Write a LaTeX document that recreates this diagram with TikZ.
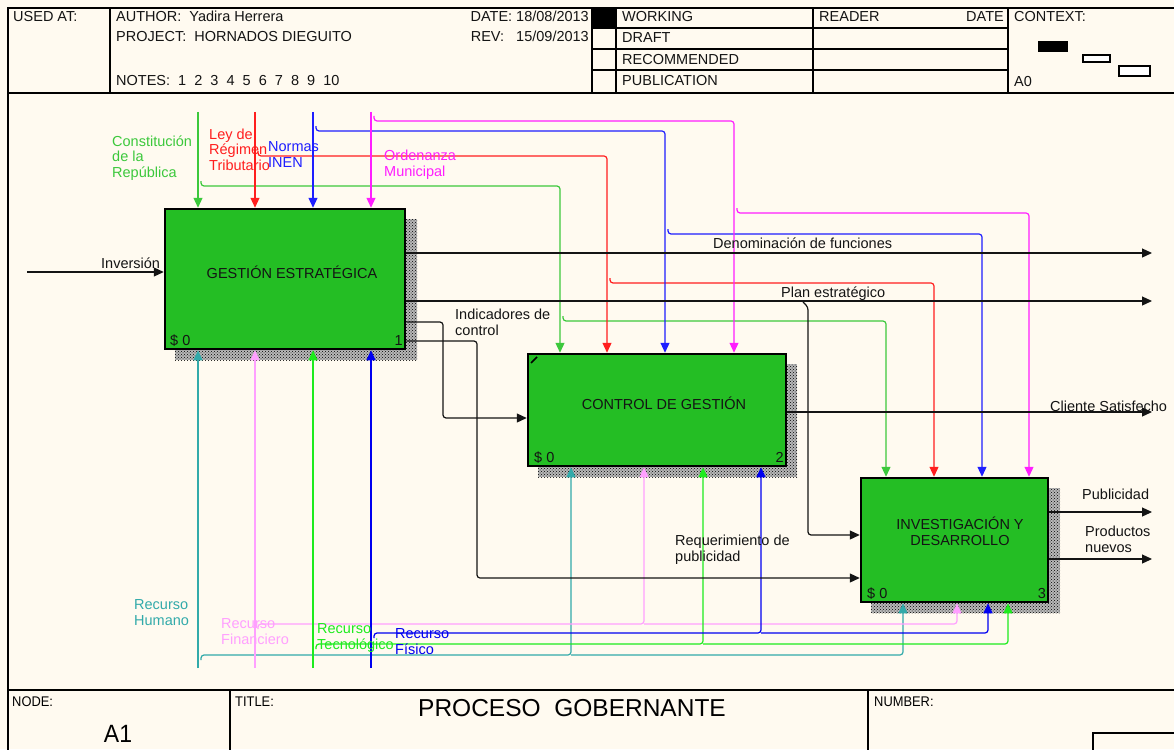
\documentclass[tikz,border=0pt]{standalone}
\usepackage{fontspec}
\setmainfont{Liberation Sans}
\newfontfamily\narrowf{Liberation Sans}[FakeStretch=0.92]
\usetikzlibrary{arrows.meta,patterns}
\definecolor{bg}{RGB}{255,250,240}
\definecolor{boxgreen}{RGB}{36,190,36}
\definecolor{cgreen}{RGB}{60,200,60}
\definecolor{cred}{RGB}{255,30,30}
\definecolor{cblue}{RGB}{30,30,255}
\definecolor{cmag}{RGB}{255,30,255}
\definecolor{mteal}{RGB}{50,170,170}
\definecolor{mpink}{RGB}{255,160,255}
\definecolor{mlime}{RGB}{30,235,30}
\definecolor{mblue}{RGB}{0,0,240}
\definecolor{ink}{RGB}{20,20,20}
\begin{document}
\begin{tikzpicture}[x=1pt,y=-1pt,
  >={Triangle[length=10pt,width=9pt]},
  lbl/.style={font=\fontsize{14.5}{15.5}\selectfont, anchor=base west, align=left, inner sep=0pt, text=ink},
  lblr/.style={lbl, anchor=base east},
  boxlbl/.style={font=\fontsize{14.5}{16}\selectfont, align=center, inner sep=0pt, text=ink},
  box/.style={draw=black, line width=2.5pt, fill=boxgreen, inner sep=0pt},
  shade/.style={pattern=crosshatch dots, pattern color=black},
  con/.style={line width=1.2pt, rounded corners=3pt, ->},
  frame/.style={line width=1.4pt, black},
  small/.style={font=\narrowf\fontsize{14}{15}\selectfont, anchor=base west, inner sep=0pt}
]
\useasboundingbox (0,0) rectangle (1174,749);
\fill[bg] (0,0) rectangle (1174,749);

% ---------- frame and header ----------
\draw[frame] (8,8) rectangle (1185,760);
\draw[line width=2pt] (8,93) -- (1185,93);
\foreach \xx in {110,592,616,813,1008} \draw[frame] (\xx,8) -- (\xx,93);
\foreach \yy in {28,49,70} \draw[frame] (592,\yy) -- (1008,\yy);
\fill[black] (592,8) rectangle (616,28);
\fill[black] (1038,41) rectangle (1068,52);
\draw[line width=1.2pt, fill=white] (1083,55) rectangle (1110,62);
\draw[line width=1.2pt, fill=white] (1119,66) rectangle (1150,76);

\node[lbl] (hUsed) at (13,22) {USED AT:};
\node[lbl] (hAuth) at (116,22) {AUTHOR:~~Yadira Herrera};
\node[lbl] (hProj) at (116,42) {PROJECT:~~HORNADOS DIEGUITO};
\node[lbl] (hNotes) at (116,86) {NOTES:~~1~~2~~3~~4~~5~~6~~7~~8~~9~~10};
\node[lblr] (hDate) at (589,22) {DATE: 18/08/2013};
\node[lblr] (hRev) at (589,42) {REV:~~~15/09/2013};
\node[lbl] (hW) at (622,22) {WORKING};
\node[lbl] (hD) at (622,43) {DRAFT};
\node[lbl] (hR) at (622,65) {RECOMMENDED};
\node[lbl] (hP) at (622,86) {PUBLICATION};
\node[lbl] (hRd) at (819,22) {READER};
\node[lblr] (hDt) at (1004,22) {DATE};
\node[lbl] (hCx) at (1014,22) {CONTEXT:};
\node[lbl] (hA0) at (1014,87) {A0};

% ---------- footer ----------
\draw[line width=2pt] (8,690) -- (1185,690);
\draw[frame] (230,690) -- (230,760);
\draw[frame] (868,690) -- (868,760);
\draw[frame] (1093,760) -- (1093,733) -- (1185,733);
\node[small] (fNode) at (12,706) {NODE:};
\node[small] (fTitle) at (235,706) {TITLE:};
\node[small] (fNum) at (874,706) {NUMBER:};
\node[font=\narrowf\fontsize{25}{26}\selectfont, anchor=base, inner sep=0pt] (fA1) at (118,742) {A1};
\node[font=\fontsize{24.5}{27}\selectfont, anchor=base, inner sep=0pt] (fT) at (572,716) {PROCESO~~GOBERNANTE};

% ---------- shadows ----------
\fill[black!28] (175,219) rectangle (417,360);
\fill[shade] (175,219) rectangle (417,360);
\fill[black!28] (538,364) rectangle (797,477);
\fill[shade] (538,364) rectangle (797,477);
\fill[black!28] (871,488) rectangle (1060,613);
\fill[shade] (871,488) rectangle (1060,613);

% ---------- boxes ----------
\node[box, minimum width=240pt, minimum height=140pt] (b1) at (285,279) {};
\node[box, minimum width=258pt, minimum height=112pt] (b2) at (657,410) {};
\node[box, minimum width=187pt, minimum height=124pt] (b3) at (954.5,540) {};
\draw[line width=1.6pt] (531,363) -- (537,357);

\node[boxlbl] (b1t) at (292,272) {GESTIÓN ESTRATÉGICA};
\node[boxlbl] (b2t) at (664,403) {CONTROL DE GESTIÓN};
\node[boxlbl] (b3t) at (960,531) {INVESTIGACIÓN Y\\DESARROLLO};
\node[lbl] (b1c) at (170,345) {\$ 0};
\node[lblr] (b1n) at (403,345) {1};
\node[lbl] (b2c) at (534,462) {\$ 0};
\node[lblr] (b2n) at (784,462) {2};
\node[lbl] (b3c) at (867,598) {\$ 0};
\node[lblr] (b3n) at (1046,598) {3};

% ---------- controls ----------
\coordinate (gC) at (198,112);
\coordinate (rC) at (255,112);
\coordinate (bC) at (313,112);
\coordinate (mC) at (371,112);
\coordinate (gB1) at (201,181);
\coordinate (gB2) at (563,316);
\coordinate (rB1) at (258,151);
\coordinate (rB2) at (610,278);
\coordinate (bB1) at (316,126);
\coordinate (bB2) at (668,229);
\coordinate (mB1) at (374,116);
\coordinate (mB2) at (737,208);

\draw[con,cgreen] (gC) -- (gC |- b1.north);
\draw[con,cgreen] (gB1) |- (560,186) -- (560,0 |- b2.north);
\draw[con,cgreen] (gB2) |- (886,321) -- (886,0 |- b3.north);
\draw[con,cred] (rC) -- (rC |- b1.north);
\draw[con,cred] (rB1) |- (607,156) -- (607,0 |- b2.north);
\draw[con,cred] (rB2) |- (934,283) -- (934,0 |- b3.north);
\draw[con,cblue] (bC) -- (bC |- b1.north);
\draw[con,cblue] (bB1) |- (665,131) -- (665,0 |- b2.north);
\draw[con,cblue] (bB2) |- (982,234) -- (982,0 |- b3.north);
\draw[con,cmag] (mC) -- (mC |- b1.north);
\draw[con,cmag] (mB1) |- (734,121) -- (734,0 |- b2.north);
\draw[con,cmag] (mB2) |- (1029,213) -- (1029,0 |- b3.north);

% ---------- mechanisms ----------
\coordinate (tM) at (198,668);
\coordinate (pM) at (255,668);
\coordinate (lM) at (313,668);
\coordinate (uM) at (371,668);
\coordinate (tB) at (201,660);
\coordinate (pB) at (258,629);
\coordinate (lB) at (316,649);
\coordinate (uB) at (374,638);
\coordinate (tJ) at (571,655);
\coordinate (pJ) at (644,624);
\coordinate (lJ) at (703,644);
\coordinate (uJ) at (761,633);

\draw[con,mteal] (tM) -- (tM |- b1.south);
\draw[con,mteal] (tB) |- (tJ) -- (tJ |- b2.south);
\draw[con,mteal] (tJ) -- (903,655) -- (903,0 |- b3.south);
\draw[con,mpink] (pM) -- (pM |- b1.south);
\draw[con,mpink] (pB) |- (pJ) -- (pJ |- b2.south);
\draw[con,mpink] (pJ) -- (957,624) -- (957,0 |- b3.south);
\draw[con,mlime] (lM) -- (lM |- b1.south);
\draw[con,mlime] (lB) |- (lJ) -- (lJ |- b2.south);
\draw[con,mlime] (lJ) -- (1008,644) -- (1008,0 |- b3.south);
\draw[con,mblue] (uM) -- (uM |- b1.south);
\draw[con,mblue] (uB) |- (uJ) -- (uJ |- b2.south);
\draw[con,mblue] (uJ) -- (988,633) -- (988,0 |- b3.south);

% ---------- inputs / outputs ----------
\coordinate (inp) at (27,272);
\coordinate (o1) at (1152,253);
\coordinate (o2) at (1152,301);
\coordinate (o5) at (1152,412);
\coordinate (o6) at (1152,512);
\coordinate (o7) at (1152,559);
\coordinate (psB) at (803,302);

\draw[con,ink] (inp) -- (b1.west |- inp);
\draw[con,ink] (b1.east |- o1) -- (o1);
\draw[con,ink] (b1.east |- o2) -- (o2);
\draw[con,ink] (psB) -- (808,307) -- (808,535) -- (b3.west |- 0,535);
\draw[con,ink] (b1.east |- 0,322) -- (443,322) -- (443,418) -- (b2.west |- 0,418);
\draw[con,ink] (b1.east |- 0,341) -- (477,341) -- (477,578) -- (b3.west |- 0,578);
\draw[con,ink] (b2.east |- o5) -- (o5);
\draw[con,ink] (b3.east |- o6) -- (o6);
\draw[con,ink] (b3.east |- o7) -- (o7);

% ---------- labels (base = last line) ----------
\node[lbl] (lI) at (101,268) {Inversión};
\node[lbl] (lO1) at (713,248) {Denominación de funciones};
\node[lbl] (lO2) at (781,297) {Plan estratégico};
\node[lbl] (lO3) at (455,335) {Indicadores de\\control};
\node[lbl] (lO4) at (675,561) {Requerimiento de\\publicidad};
\node[lbl] (lO5) at (1050,411) {Cliente Satisfecho};
\node[lbl] (lO6) at (1082,499) {Publicidad};
\node[lbl] (lO7) at (1085,552) {Productos\\nuevos};

\node[lbl, text=cgreen] (lc1) at (112,177) {Constitución\\de la\\República};
\node[lbl, text=cred] (lc2) at (209,170) {Ley de\\Régimen\\Tributario};
\node[lbl, text=cblue] (lc3) at (268,167) {Normas\\INEN};
\node[lbl, text=cmag] (lc4) at (384,176) {Ordenanza\\Municipal};

\node[lbl, text=mteal] (lm1) at (134,625) {Recurso\\Humano};
\node[lbl, text=mpink] (lm2) at (221,644) {Recurso\\Financiero};
\node[lbl, text=mlime] (lm3) at (317,649) {Recurso\\Tecnológico};
\node[lbl, text=mblue] (lm4) at (395,654) {Recurso\\Físico};
\end{tikzpicture}
\end{document}
